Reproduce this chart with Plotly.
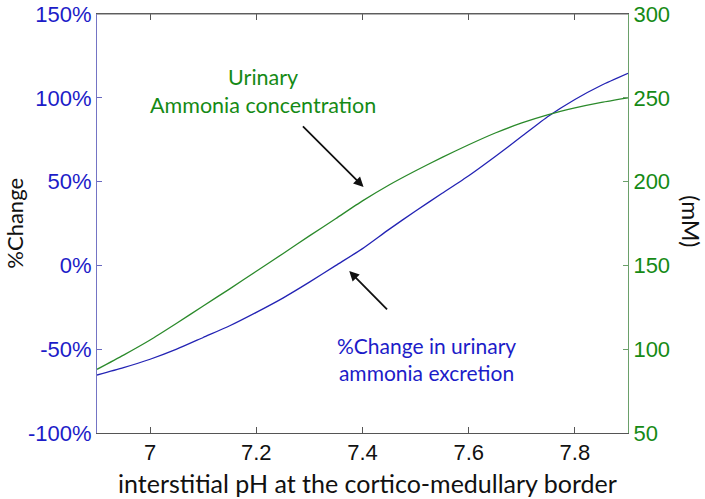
import plotly.graph_objects as go

ph = [6.9, 6.95, 7.0, 7.05, 7.1, 7.15, 7.2, 7.25, 7.3, 7.35, 7.4, 7.45, 7.5, 7.55, 7.6, 7.65, 7.7, 7.75, 7.8, 7.85, 7.9]
excretion_pct = [-65.4, -61.0, -56.0, -50.0, -43.0, -36.0, -28.0, -19.5, -10.0, 0.0, 10.0, 21.5, 32.5, 43.0, 53.5, 65.0, 77.0, 89.0, 99.0, 107.5, 114.6]
ammonia_mM = [88.0, 96.5, 105.5, 115.5, 125.8, 136.0, 146.5, 157.0, 167.6, 178.0, 188.5, 198.0, 206.5, 214.5, 222.0, 229.0, 235.0, 240.0, 244.0, 247.3, 250.0]

x_ticks = [7.0, 7.2, 7.4, 7.6, 7.8]
x_ticktext = ["7", "7.2", "7.4", "7.6", "7.8"]
left_ticks = [-100, -50, 0, 50, 100, 150]
left_ticktext = ["-100%", "-50%", "0%", "50%", "100%", "150%"]
right_ticks = [50, 100, 150, 200, 250, 300]
right_ticktext = ["50", "100", "150", "200", "250", "300"]

BLUE_LINE = "#2323b4"
BLUE_TXT = "#1c1cc8"
GREEN_LINE = "#2b8a2b"
GREEN_TXT = "#158a15"
TICKFONT = "Liberation Sans"
TXTFONT = "Lato"

fig = go.Figure()
fig.add_trace(go.Scatter(x=ph, y=excretion_pct, mode="lines",
                         line=dict(color=BLUE_LINE, width=1.3, shape="spline", smoothing=0.6),
                         xaxis="x", yaxis="y", showlegend=False, hoverinfo="skip"))
fig.add_trace(go.Scatter(x=ph, y=ammonia_mM, mode="lines",
                         line=dict(color=GREEN_LINE, width=1.3, shape="spline", smoothing=0.6),
                         xaxis="x", yaxis="y2", showlegend=False, hoverinfo="skip"))

fig.update_layout(
    width=705, height=499,
    margin=dict(l=97, r=77, t=14, b=66),
    paper_bgcolor="white", plot_bgcolor="white",
    xaxis=dict(range=[6.9, 7.9], tickvals=x_ticks, ticktext=x_ticktext, automargin=False,
               ticks="inside", ticklen=6, tickcolor="#555", showline=True,
               linecolor="#555", linewidth=1, mirror="ticks", showgrid=False,
               zeroline=False, ticklabeloverflow="allow",
               tickfont=dict(family=TICKFONT, size=22, color="#111")),
    xaxis2=dict(range=[6.9, 7.9], tickvals=x_ticks, showticklabels=False, automargin=False,
                overlaying="x", side="top", anchor="y",
                ticks="inside", ticklen=6, tickcolor="#555", showline=True,
                linecolor="#555", linewidth=1, showgrid=False, zeroline=False),
    yaxis=dict(range=[-100, 150], tickvals=left_ticks, ticktext=left_ticktext, automargin=False,
               ticks="inside", ticklen=5, tickcolor="#6868c0", showline=True,
               linecolor="#7474c4", linewidth=1, showgrid=False, zeroline=False,
               ticklabeloverflow="allow",
               tickfont=dict(family=TICKFONT, size=22, color=BLUE_TXT)),
    yaxis2=dict(range=[50, 300], tickvals=right_ticks, ticktext=right_ticktext, automargin=False,
                overlaying="y", side="right", anchor="x",
                ticks="inside", ticklen=5, tickcolor="#6aa06a", showline=True,
                linecolor="#6aa06a", linewidth=1, showgrid=False, zeroline=False,
                ticklabeloverflow="allow",
                tickfont=dict(family=TICKFONT, size=22, color=GREEN_TXT)),
    shapes=[dict(type="line", xref="paper", yref="paper", x0=0, x1=1, y0=1, y1=1,
                 line=dict(color="#666", width=1))],
)

ann = []
ann.append(dict(text="interstitial pH at the cortico-medullary border", xref="paper", yref="paper",
                x=0.51, y=-0.119, yanchor="middle", showarrow=False,
                font=dict(family=TXTFONT, size=25, color="#111")))
ann.append(dict(text="%Change", xref="paper", yref="paper", x=-0.156, y=0.5,
                textangle=-90, showarrow=False, xanchor="center", yanchor="middle",
                font=dict(family=TXTFONT, size=22, color="#111")))
ann.append(dict(text="(mM)", xref="paper", yref="paper", x=1.117, y=0.505,
                textangle=90, showarrow=False, xanchor="center", yanchor="middle",
                font=dict(family=TXTFONT, size=23, color="#111")))
ann.append(dict(text="Urinary<br>Ammonia concentration", xref="x", yref="y",
                x=7.213, y=104, showarrow=False, align="center",
                font=dict(family=TXTFONT, size=21.5, color=GREEN_TXT)))
ann.append(dict(text="%Change in urinary<br>ammonia excretion", xref="x", yref="y",
                x=7.52, y=-56, showarrow=False, align="center",
                font=dict(family=TXTFONT, size=21, color=BLUE_TXT)))
ann.append(dict(x=7.402, y=46.8, ax=7.285, ay=83.8, xref="x", yref="y", axref="x", ayref="y",
                text="", showarrow=True, arrowhead=2, arrowsize=1.1, arrowwidth=1.8, arrowcolor="#111"))
ann.append(dict(x=7.375, y=-3.3, ax=7.449, ay=-27.2, xref="x", yref="y", axref="x", ayref="y",
                text="", showarrow=True, arrowhead=2, arrowsize=1.1, arrowwidth=1.8, arrowcolor="#111"))
fig.update_layout(annotations=ann)

# remove the default 8px page margin so the figure sits at the window's top-left corner
fig.write_html("out.html", config={"displayModeBar": False},
               post_script="document.body.style.margin='0';")
